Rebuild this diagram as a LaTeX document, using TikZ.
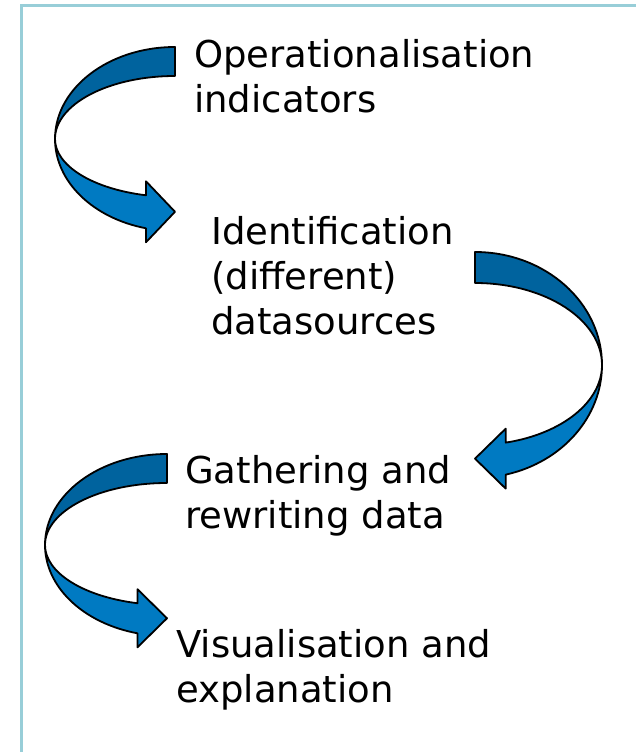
\documentclass[tikz,border=0pt]{standalone}
\usepackage{fontspec}
\setmainfont{DejaVu Sans}
\definecolor{framecyan}{RGB}{152,206,216}
\definecolor{banddark}{RGB}{0,99,158}
\definecolor{bandlight}{RGB}{0,122,194}

\begin{document}
\begin{tikzpicture}[
  x=1pt, y=1pt,
  stage/.style={anchor=base west, inner sep=0pt, align=left, font=\fontsize{37}{45}\selectfont},
  band/.style={draw=black, line width=1.8pt, line join=round},
  pics/bendarrow/.style n args={4}{code={
    % lower band with the head
    \path[band, fill=bandlight] (-#1,0)
      arc[start angle=180, end angle=256, x radius=#1, y radius=#2]
      -- ++(0,-14) -- (0,{(#2+#4)/2*sin(256)})
      -- ({#1*cos(256)},{#4*sin(256)+14}) -- ({#1*cos(256)},{#4*sin(256)})
      arc[start angle=256, end angle=180, x radius=#1, y radius=#4] -- cycle;
    % upper band from the tail
    \path[band, fill=banddark] (0,#2)
      arc[start angle=90, end angle=180, x radius=#1, y radius=#2]
      arc[start angle=180, end angle=90, x radius=#1, y radius=#3] -- cycle;
  }}
]
\useasboundingbox (0,0) rectangle (635,-752);
\draw[framecyan, line width=3pt] (21.5,-760) -- (21.5,-5.5) -- (640,-5.5);

% base = baseline of the last line
\node[stage] (oper) at (194,-112) {Operationalisation\\indicators};
\node[stage] (ident) at (211,-334) {Identification\\(different)\\datasources};
\node[stage] (gather) at (185,-528) {Gathering and\\rewriting data};
\node[stage] (visual) at (176,-702) {Visualisation and\\explanation};

\pic at (175,-139) {bendarrow={120}{92}{63}{58}};
\pic[xscale=-1] at (475,-365) {bendarrow={127}{113}{82}{80}};
\pic at (167,-545) {bendarrow={122}{91}{62}{60}};
\end{tikzpicture}
\end{document}
